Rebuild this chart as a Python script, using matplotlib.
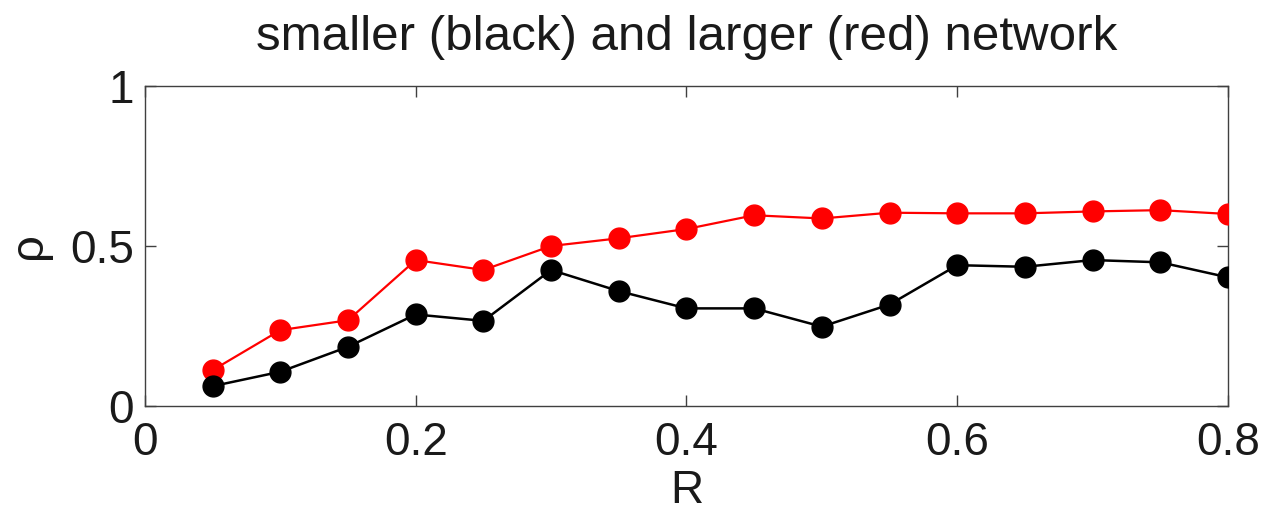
import matplotlib.pyplot as plt

R = [0.05, 0.10, 0.15, 0.20, 0.25, 0.30, 0.35, 0.40,
     0.45, 0.50, 0.55, 0.60, 0.65, 0.70, 0.75, 0.80]
rho_small = [0.062, 0.107, 0.185, 0.286, 0.266, 0.425, 0.359, 0.305,
             0.305, 0.248, 0.317, 0.440, 0.435, 0.456, 0.449, 0.402]
rho_large = [0.112, 0.237, 0.268, 0.456, 0.425, 0.500, 0.524, 0.553,
             0.596, 0.586, 0.604, 0.602, 0.602, 0.608, 0.612, 0.600]
xticks = [0, 0.2, 0.4, 0.6, 0.8]
yticks = [0, 0.5, 1]

plt.rcParams['font.family'] = ['Liberation Sans', 'DejaVu Sans']

fig = plt.figure(figsize=(12.64, 5.13), dpi=100)
ax = fig.add_axes([0.1147, 0.2086, 0.8568, 0.6238])

ax.plot(R, rho_large, color='red', lw=1.6, marker='o', ms=15, zorder=3)
ax.plot(R, rho_small, color='black', lw=1.8, marker='o', ms=15, zorder=3)

ax.set_xlim(0, 0.8)
ax.set_ylim(0, 1)
ax.set_xticks(xticks)
ax.set_xticklabels(['0', '0.2', '0.4', '0.6', '0.8'])
ax.set_yticks(yticks)
ax.set_yticklabels(['0', '0.5', '1'])
ax.tick_params(direction='in', top=True, right=True, length=8, width=1,
               labelsize=33, color='#404040', labelcolor='#1a1a1a')
ax.tick_params(axis='x', pad=11)
ax.tick_params(axis='y', pad=8)
for s in ax.spines.values():
    s.set_color('#404040')
    s.set_linewidth(1)

ax.set_xlabel('R', fontsize=33, labelpad=3, color='#1a1a1a')
ax.set_ylabel('ρ', fontsize=34, labelpad=14, color='#1a1a1a')
ax.set_title('smaller (black) and larger (red) network', fontsize=35.5,
             pad=26, color='#1a1a1a')

fig.savefig('out.png', dpi=100)
